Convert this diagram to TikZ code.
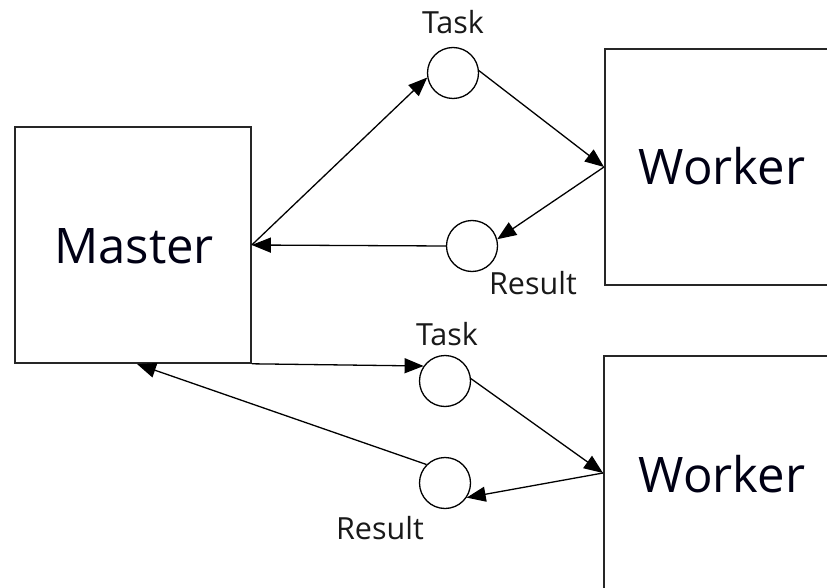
\documentclass[tikz,border=0pt]{standalone}
\usepackage{fontspec}
\setmainfont{Open Sans}
\usetikzlibrary{arrows.meta}
\tikzset{
  box/.style={draw=black!85, line width=1.6pt, fill=white, inner sep=0pt},
  bigtext/.style={font=\fontsize{49}{55}\selectfont, text=black!92!blue, inner sep=0pt},
  lbl/.style={font=\fontsize{30.5}{36}\selectfont, text=black!90, inner sep=0pt},
  buf/.style={draw=black, line width=1.3pt, circle, minimum size=51pt, inner sep=0pt},
  conn/.style={line width=1.3pt, -{Triangle[length=19pt,width=15pt]}}
}
\begin{document}
\begin{tikzpicture}[x=1pt,y=-1pt]
\clip (0,0) rectangle (827,588);
\fill[white] (0,0) rectangle (827,588);
% boxes
\node[box, minimum width=236pt, minimum height=236pt] (m) at (133,245) {};
\node[bigtext] (mt) at (134,246) {Master};
\node[box, anchor=north west, minimum width=300pt, minimum height=236pt] (w1) at (604,48) {};
\node[bigtext] (w1t) at (722,166) {Worker};
\node[box, anchor=north west, minimum width=300pt, minimum height=260pt] (w2) at (603,355) {};
\node[bigtext] (w2t) at (722,474) {Worker};
% queues
\node[buf] (t1) at (453,73) {};
\node[buf] (r1) at (472,246) {};
\node[buf] (t2) at (445,381) {};
\node[buf] (r2) at (445,483) {};
% labels
\node[lbl] (lt1) at (453,22) {Task};
\node[lbl] (lr1) at (533,283) {Result};
\node[lbl] (lt2) at (447,334) {Task};
\node[lbl] (lr2) at (380,528) {Result};
% connection points
\coordinate (w1p) at (604,167);
\coordinate (w2p) at (603,473);
\coordinate (mb) at (137,364);
% connectors
\draw[conn] (m.east) -- (t1.190);
\draw[conn] (t1.5) -- (w1p);
\draw[conn] (w1p) -- (r1.15);
\draw[conn] (r1.west) -- (m.east);
\draw[conn] (m.south east) -- (t2.145);
\draw[conn] (t2.5) -- (w2p);
\draw[conn] (w2p) -- (r2.-34);
\draw[conn] (r2.135) -- (mb);
\end{tikzpicture}
\end{document}
